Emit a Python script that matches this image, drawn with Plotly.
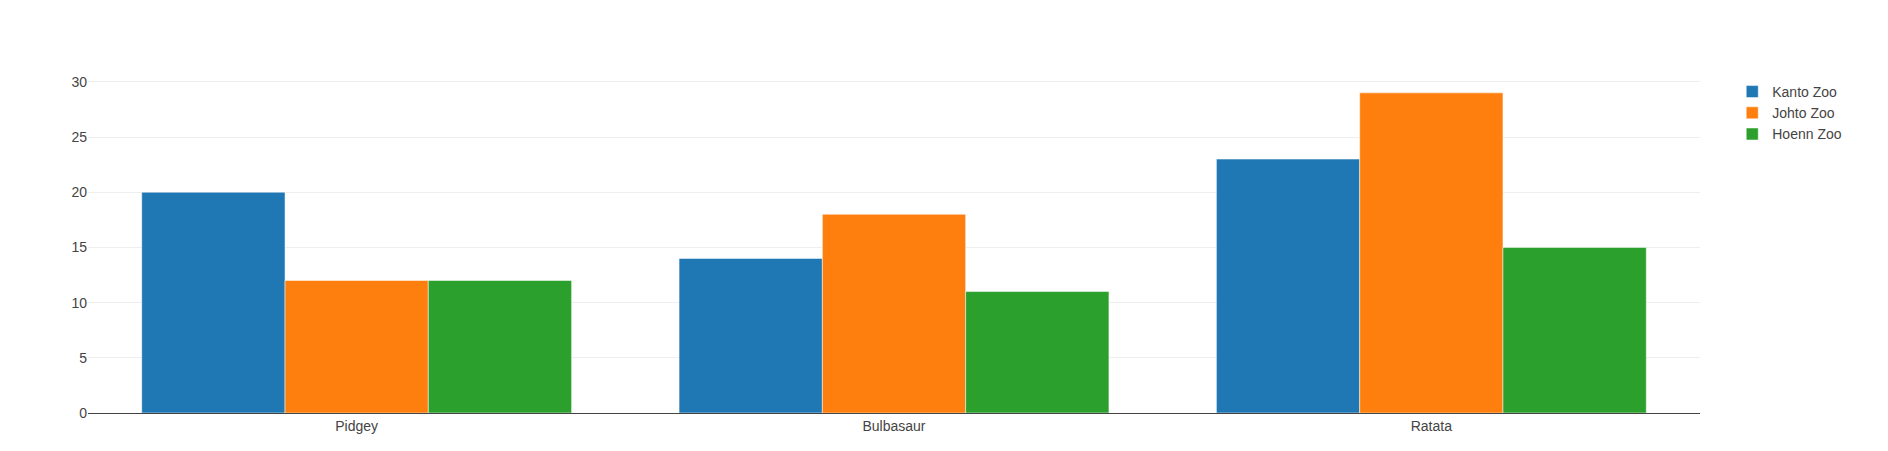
import plotly.graph_objects as go

animals = ["Pidgey", "Bulbasaur", "Ratata"]
kanto = [20, 14, 23]
johto = [12, 18, 29]
hoenn = [12, 11, 15]

fig = go.Figure()
fig.add_trace(go.Bar(name="Kanto Zoo", x=animals, y=kanto, marker_color="#1f77b4"))
fig.add_trace(go.Bar(name="Johto Zoo", x=animals, y=johto, marker_color="#ff7f0e"))
fig.add_trace(go.Bar(name="Hoenn Zoo", x=animals, y=hoenn, marker_color="#2ca02c"))
fig.update_layout(
    barmode="group", template="plotly_white", width=1888, height=451,
    margin=dict(l=80, r=196, t=68, b=46),
    font=dict(family="Arial", size=14, color="#444"),
    xaxis=dict(showline=True, linecolor="#444", linewidth=1),
    yaxis=dict(gridcolor="#eee", zeroline=False),
)
fig.write_html("out.html")
